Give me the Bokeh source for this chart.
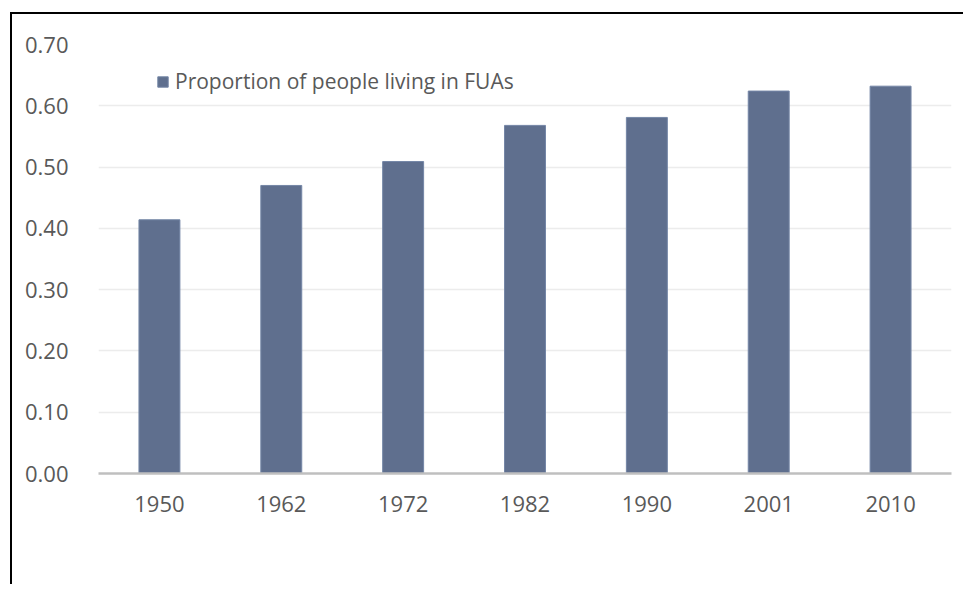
from bokeh.plotting import figure
from bokeh.models import (FactorRange, Range1d, Legend, LegendItem,
                          FixedTicker, NumeralTickFormatter, InlineStyleSheet)
from bokeh.embed import file_html
from bokeh.resources import INLINE

# ---- data ----
years = ["1950", "1962", "1972", "1982", "1990", "2001", "2010"]
proportion = [0.414, 0.470, 0.509, 0.568, 0.581, 0.624, 0.632]
series_name = "Proportion of people living in FUAs"
y_ticks = [0.0, 0.1, 0.2, 0.3, 0.4, 0.5, 0.6, 0.7]

FONT = "Open Sans"
TXT = "#595959"
BAR = "#5F6F8E"

p = figure(width=963, height=584,
           x_range=FactorRange(*years), y_range=Range1d(0, 0.7),
           output_backend="svg", toolbar_location=None)
p.min_border_left = 98
p.min_border_right = 12
p.min_border_top = 44
p.min_border_bottom = 111
p.outline_line_color = None
p.background_fill_color = "white"
p.border_fill_color = "white"

r = p.vbar(x=years, top=proportion, width=0.336,
           fill_color=BAR, line_color="#7486A6", line_width=1)

# y axis
p.yaxis.ticker = FixedTicker(ticks=y_ticks)
p.yaxis.formatter = NumeralTickFormatter(format="0.00")
p.yaxis.axis_line_color = None
p.yaxis.major_tick_line_color = None
p.yaxis.minor_tick_line_color = None
p.yaxis.major_label_standoff = 24
p.yaxis.major_label_text_font = FONT
p.yaxis.major_label_text_font_size = "22px"
p.yaxis.major_label_text_color = TXT

# x axis
p.xaxis.axis_line_color = "#BFBFBF"
p.xaxis.axis_line_width = 2.5
p.xaxis.major_tick_line_color = None
p.xaxis.minor_tick_line_color = None
p.xaxis.major_label_standoff = 16
p.xaxis.major_label_text_font = FONT
p.xaxis.major_label_text_font_size = "22px"
p.xaxis.major_label_text_color = TXT

# grid
p.xgrid.grid_line_color = None
p.ygrid.grid_line_color = "#ECECEC"
p.ygrid.grid_line_width = 1.5

# legend
legend = Legend(items=[LegendItem(label=series_name, renderers=[r])],
                location=(58, 378), orientation="horizontal",
                padding=0, margin=0, spacing=0,
                glyph_width=13, glyph_height=13, label_standoff=6,
                label_text_font=FONT, label_text_font_size="21px",
                label_text_color=TXT,
                border_line_color=None, background_fill_alpha=0)
p.add_layout(legend)

# outer black frame (left and top edges), drawn as CSS pseudo-elements
p.stylesheets = [InlineStyleSheet(css="""
:host::before { content: ""; position: absolute; left: 10px; top: 12px;
                width: 2px; height: 572px; background: #000; z-index: 10; }
:host::after  { content: ""; position: absolute; left: 10px; top: 12px;
                width: 953px; height: 2px; background: #000; z-index: 10; }
""")]

open("out.html", "w").write(file_html(p, INLINE))
